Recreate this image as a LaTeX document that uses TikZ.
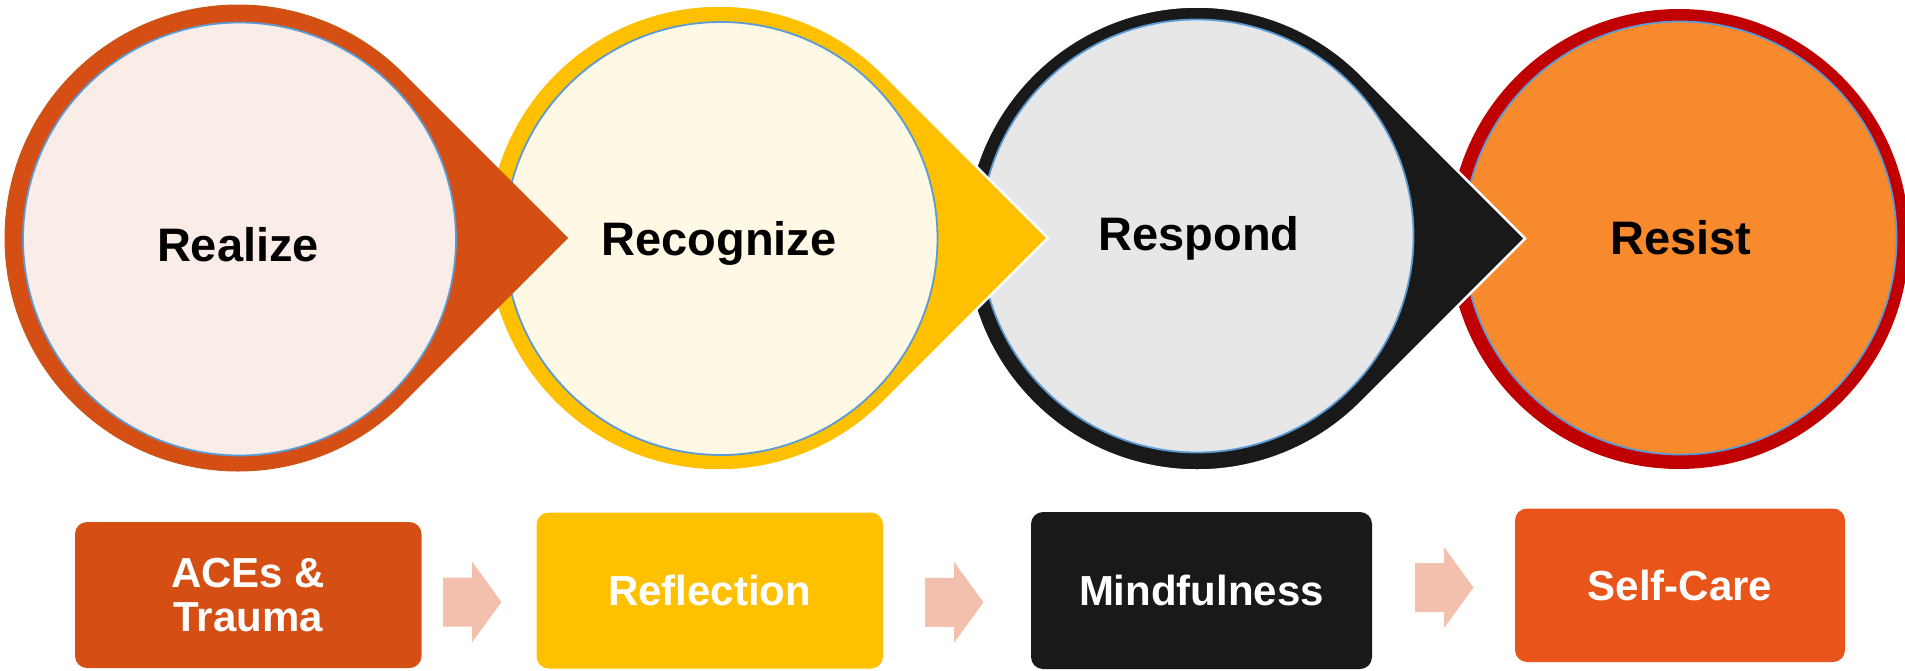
\documentclass[tikz,border=0pt]{standalone}
\usepackage{fontspec}
\setmainfont{Liberation Sans}
\definecolor{ringA}{RGB}{213,78,20}
\definecolor{ringAedge}{RGB}{200,88,22}
\definecolor{fillA}{RGB}{250,236,231}
\definecolor{ringB}{RGB}{255,192,0}
\definecolor{fillB}{RGB}{255,248,229}
\definecolor{ringC}{RGB}{25,25,25}
\definecolor{fillC}{RGB}{231,231,231}
\definecolor{ringD}{RGB}{192,0,0}
\definecolor{fillD}{RGB}{248,138,46}
\definecolor{innerblue}{RGB}{91,155,213}
\definecolor{boxA}{RGB}{213,78,20}
\definecolor{boxB}{RGB}{255,192,0}
\definecolor{boxC}{RGB}{25,25,25}
\definecolor{boxD}{RGB}{232,84,26}
\definecolor{arrowpink}{RGB}{244,192,174}
% teardrop: centre x, centre y, radius, style
\newcommand\teardrop[4]{\path[#4] ({#1+#3*1.41421},#2) -- ({#1+#3*0.70711},{#2-#3*0.70711}) arc[start angle=45,end angle=315,radius=#3pt] -- cycle;}
% block arrow: left x, centre y
\newcommand\blockarr[2]{\fill[arrowpink] (#1,{#2-24.5}) -- ({#1+29},{#2-24.5}) -- ({#1+29},{#2-40.5}) -- ({#1+58.5},#2) -- ({#1+29},{#2+40.5}) -- ({#1+29},{#2+24.5}) -- (#1,{#2+24.5}) -- cycle;}
\begin{document}
\begin{tikzpicture}[x=1pt,y=-1pt,
  innerc/.style={circle, draw=innerblue, line width=1.8pt, inner sep=0pt, minimum size=433pt},
  title/.style={font=\bfseries\fontsize{47}{50}\selectfont, text=black, anchor=base, inner sep=0pt},
  stepbox/.style={rounded corners=12pt, inner sep=0pt, text=white, align=center,
    font=\bfseries\fontsize{42}{44.5}\selectfont}]
\useasboundingbox (0,0) rectangle (1905,670);

% circle 4 (bottom of the stack)
\fill[ringD] (1679,239) circle[radius=230pt];
\node[innerc, fill=fillD] (c4) at (1680,238) {};

% circle 3
\teardrop{1197}{238.5}{232}{fill=ringC, draw=white, line width=2.5pt}
\node[innerc, fill=fillC] (c3) at (1197,236) {};

% circle 2
\teardrop{719}{238}{232.5}{fill=ringB, draw=white, line width=2.5pt}
\node[innerc, fill=fillB] (c2) at (721,238.5) {};

% circle 1 (top of the stack)
\teardrop{238}{238}{233}{fill=ringA, draw=ringAedge, line width=1pt}
\node[innerc, fill=fillA] (c1) at (239.5,239) {};

% titles
\node[title] (t1) at (238,261.5) {Realize};
\node[title] (t2) at (719,255) {Recognize};
\node[title] (t3) at (1199,250) {Respond};
\node[title] (t4) at (1681,254) {Resist};

% boxes
\node[stepbox, fill=boxA, minimum width=346.5pt, minimum height=146pt] (b1) at (248.25,595) {ACEs \&\\Trauma};
\node[stepbox, fill=boxB, minimum width=346.5pt, minimum height=156pt] (b2) at (709.75,590.5) {Reflection};
\node[stepbox, fill=boxC, minimum width=341pt, minimum height=157pt] (b3) at (1201.5,590.5) {Mindfulness};
\node[stepbox, fill=boxD, minimum width=330pt, minimum height=153.5pt] (b4) at (1680,585.25) {Self-Care};

% arrows between boxes
\blockarr{443}{602}
\blockarr{925}{602.3}
\blockarr{1415}{587.5}
\end{tikzpicture}
\end{document}
